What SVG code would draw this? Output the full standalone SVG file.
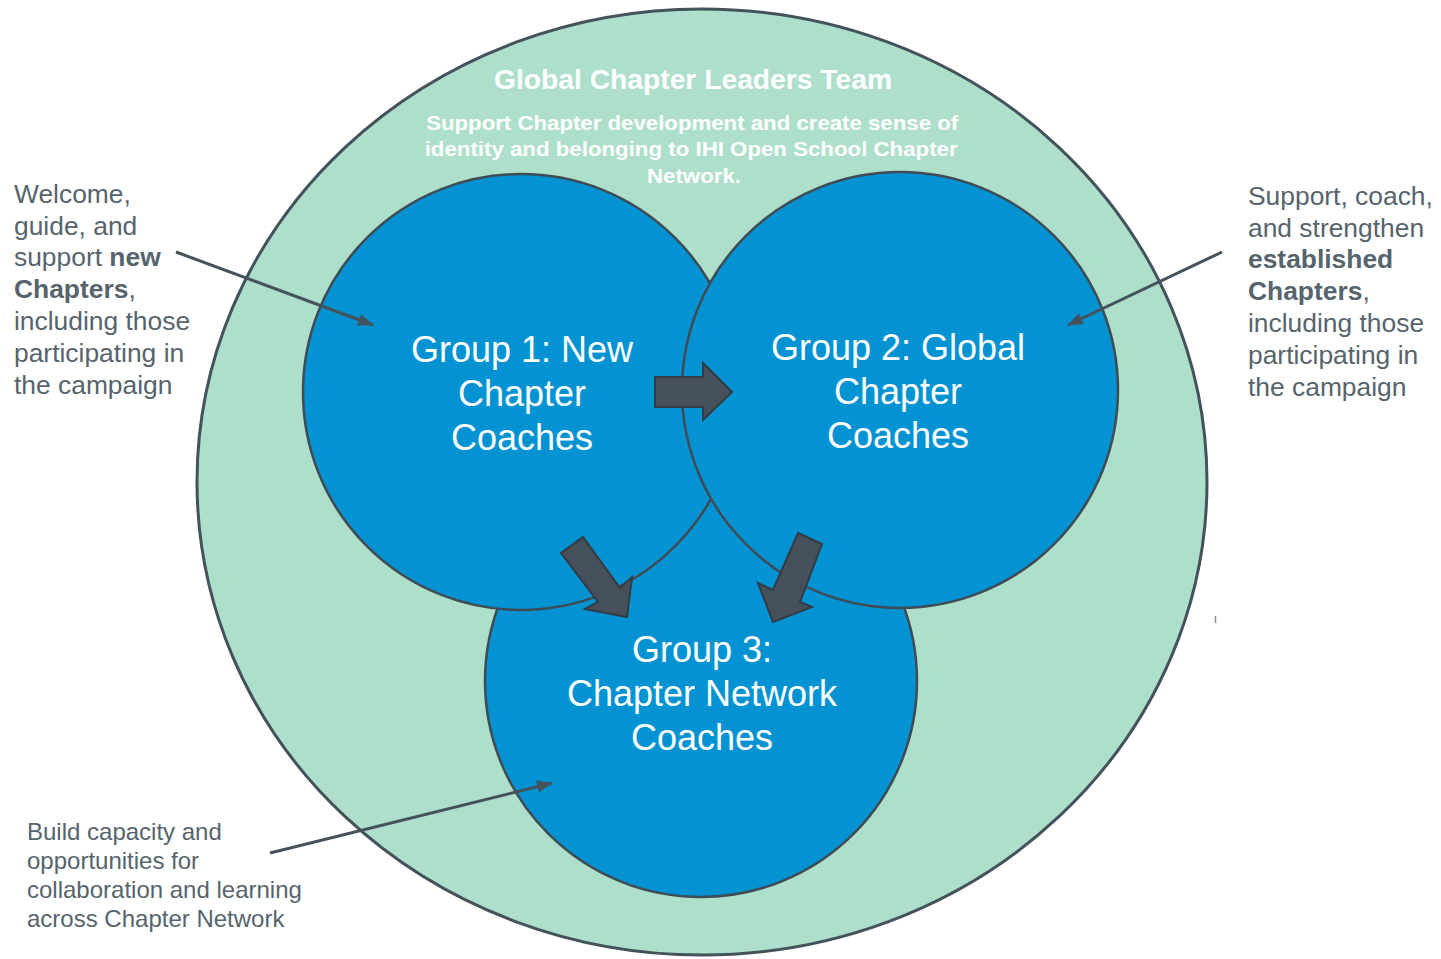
<svg xmlns="http://www.w3.org/2000/svg" width="1441" height="959" viewBox="0 0 1441 959">
<defs>
<style>
.outer{fill:#addfca;stroke:#44525c;stroke-width:3}
.grp{fill:#0393d2;stroke:#3f4b55;stroke-width:2.5}
.wt{font-family:"Liberation Sans",Arial,sans-serif;fill:#ffffff;text-anchor:middle}
.gt{font-family:"Liberation Sans",Arial,sans-serif;font-size:36px}
.side{font-family:"Liberation Sans",Arial,sans-serif;fill:#56646d;font-size:26.4px}
.btm{font-family:"Liberation Sans",Arial,sans-serif;fill:#56646d;font-size:24px}
.blk{fill:#46505a;stroke:#333c44;stroke-width:2;stroke-linejoin:miter}
.con{fill:none;stroke:#44525c;stroke-width:3}
</style>
<marker id="ah" markerWidth="16" markerHeight="12" refX="15" refY="6" orient="auto" markerUnits="userSpaceOnUse">
<path d="M0,0 L16,6 L0,12 z" fill="#44525c"/>
</marker>
</defs>
<rect width="1441" height="959" fill="#ffffff"/>

<g id="global-team">
<ellipse class="outer" cx="702" cy="482" rx="505" ry="473"/>
<text class="wt" x="693" y="89" font-size="27" font-weight="bold" textLength="398" lengthAdjust="spacingAndGlyphs">Global Chapter Leaders Team</text>
<text class="wt" font-size="20.5" font-weight="bold">
<tspan x="695" y="130" textLength="532" lengthAdjust="spacingAndGlyphs">Support Chapter development and create sense of</tspan>
<tspan x="694" y="156" textLength="533" lengthAdjust="spacingAndGlyphs">identity and belonging to IHI Open School Chapter</tspan>
<tspan x="694" y="183" textLength="94" lengthAdjust="spacingAndGlyphs">Network.</tspan>
</text>
</g>

<g id="group3">
<circle class="grp" cx="701" cy="681" r="216"/>
<text class="wt gt"><tspan x="702" y="662">Group 3:</tspan><tspan x="702" y="706">Chapter Network</tspan><tspan x="702" y="750">Coaches</tspan></text>
</g>

<g id="group1">
<circle class="grp" cx="521" cy="392" r="218"/>
<text class="wt gt"><tspan x="522" y="362">Group 1: New</tspan><tspan x="522" y="406">Chapter</tspan><tspan x="522" y="450">Coaches</tspan></text>
</g>

<g id="group2">
<circle class="grp" cx="900" cy="390" r="218"/>
<text class="wt gt"><tspan x="898" y="360">Group 2: Global</tspan><tspan x="898" y="404">Chapter</tspan><tspan x="898" y="448">Coaches</tspan></text>
</g>

<g id="connectors">
<polygon class="blk" points="655,377 703,377 703,363 732,392 703,420 703,407 655,407"/>
<polygon class="blk" points="561,553 583,537 620,588 632,577 627,617 585,609 598,602"/>
<polygon class="blk" points="798,533 822,544 800,602 812,607 773,622 758,583 773,590"/>
<line class="con" x1="176" y1="252" x2="373" y2="325" marker-end="url(#ah)"/>
<line class="con" x1="1222" y1="252" x2="1068" y2="325" marker-end="url(#ah)"/>
<line class="con" x1="270" y1="853" x2="552" y2="783" marker-end="url(#ah)"/>
</g>

<g id="label-new">
<text class="side">
<tspan x="14" y="203">Welcome,</tspan>
<tspan x="14" y="235">guide, and</tspan>
<tspan x="14" y="266">support <tspan font-weight="bold">new</tspan></tspan>
<tspan x="14" y="298"><tspan font-weight="bold">Chapters</tspan>,</tspan>
<tspan x="14" y="330">including those</tspan>
<tspan x="14" y="362">participating in</tspan>
<tspan x="14" y="394">the campaign</tspan>
</text>
</g>

<g id="label-established">
<text class="side">
<tspan x="1248" y="205">Support, coach,</tspan>
<tspan x="1248" y="237">and strengthen</tspan>
<tspan x="1248" y="268" font-weight="bold">established</tspan>
<tspan x="1248" y="300"><tspan font-weight="bold">Chapters</tspan>,</tspan>
<tspan x="1248" y="332">including those</tspan>
<tspan x="1248" y="364">participating in</tspan>
<tspan x="1248" y="396">the campaign</tspan>
</text>
</g>

<g id="label-network">
<text class="btm">
<tspan x="27" y="840">Build capacity and</tspan>
<tspan x="27" y="869">opportunities for</tspan>
<tspan x="27" y="898">collaboration and learning</tspan>
<tspan x="27" y="927">across Chapter Network</tspan>
</text>
</g>

<line x1="1215.5" y1="616" x2="1215.5" y2="623" stroke="#8a8f93" stroke-width="1.5"/>
</svg>
